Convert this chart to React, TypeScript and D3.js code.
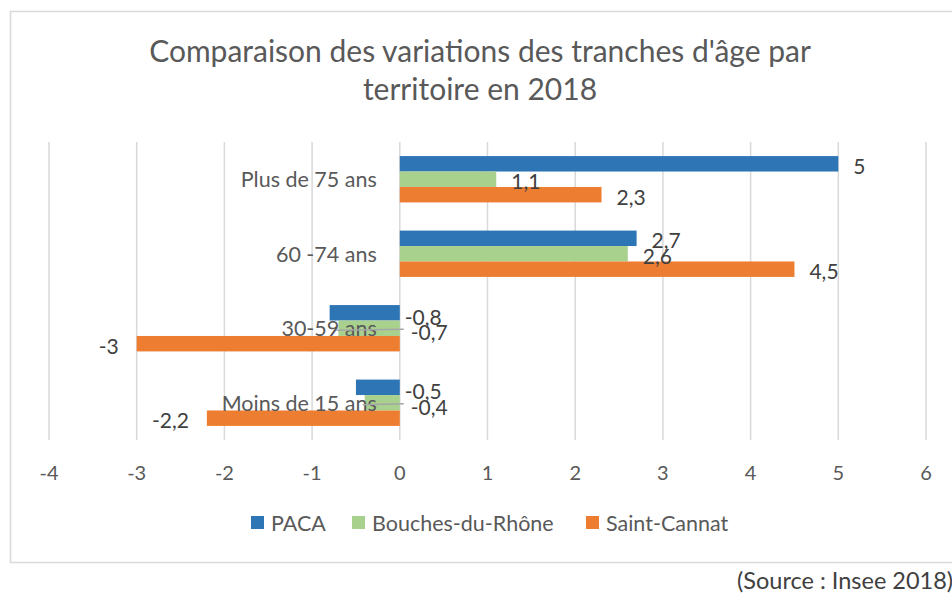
import React from "react";
import * as d3 from "d3";

const categories = ["Plus de 75 ans", "60 -74 ans", "30-59 ans", "Moins de 15 ans"];
const seriesNames = ["PACA", "Bouches-du-Rhône", "Saint-Cannat"];
const paca = [5, 2.7, -0.8, -0.5];
const bouches = [1.1, 2.6, -0.7, -0.4];
const saintCannat = [2.3, 4.5, -3, -2.2];
const xTicks = [-4, -3, -2, -1, 0, 1, 2, 3, 4, 5, 6];
const colors = ["#2E75B6", "#A9D18E", "#ED7D31"];
const titleLines = ["Comparaison des variations des tranches d'âge par", "territoire en 2018"];
const sourceText = "(Source : Insee 2018)";

const W = 952;
const H = 594;
const FONT = "Lato, 'Open Sans', sans-serif";

export default function App() {
  const series = [paca, bouches, saintCannat];
  const x = d3.scaleLinear().domain([-4, 6]).range([49, 926]);
  const y = d3.scaleBand<string>().domain(categories).range([142, 440]).padding(0);
  const gap = y.bandwidth() * 0.378;
  const inner = d3
    .scaleBand<number>()
    .domain([0, 1, 2])
    .range([gap / 2, y.bandwidth() - gap / 2])
    .padding(0);
  const fmt = (v: number) => String(v).replace(".", ",");

  const bars: any[] = [];
  const labels: any[] = [];
  const leaders: any[] = [];
  categories.forEach((c, ci) => {
    series.forEach((s, si) => {
      const v = s[ci];
      const y0 = (y(c) as number) + (inner(si) as number);
      const h = inner.bandwidth();
      const x0 = Math.min(x(0), x(v));
      const w = Math.abs(x(v) - x(0));
      bars.push(<rect key={`b${ci}-${si}`} x={x0} y={y0} width={w} height={h} fill={colors[si]} />);
      const cy = y0 + h / 2;
      if (v >= 0) {
        labels.push(
          <text key={`l${ci}-${si}`} x={x(v) + 15} y={cy + 1.5} dominantBaseline="central" fill="#404040" fontSize={21}>
            {fmt(v)}
          </text>
        );
      } else if (v <= -1) {
        labels.push(
          <text key={`l${ci}-${si}`} x={x(v) - 18} y={cy + 1.5} textAnchor="end" dominantBaseline="central" fill="#404040" fontSize={21}>
            {fmt(v)}
          </text>
        );
      } else {
        const lx = x(0) + (si === 0 ? 5 : 11);
        if (si === 1) {
          leaders.push(
            <line key={`ld${ci}`} x1={x(v) - 2} x2={x(0) + 4} y1={cy + 2} y2={cy + 1} stroke="#A6A6A6" strokeWidth={1.5} />
          );
        }
        labels.push(
          <text key={`l${ci}-${si}`} x={lx} y={cy + 3.5} dominantBaseline="central" fill="#404040" fontSize={21}>
            {fmt(v)}
          </text>
        );
      }
    });
  });

  const legendItems = [
    { sx: 251, tx: 271 },
    { sx: 352, tx: 372 },
    { sx: 586, tx: 606 },
  ];

  return (
    <div style={{ position: "fixed", left: 0, top: 0 }}>
      <svg width={W} height={H} style={{ display: "block", fontFamily: FONT }}>
        <rect x={0} y={0} width={W} height={H} fill="#fff" />
        <rect x={10.5} y={11.5} width={960} height={551} fill="#fff" stroke="#D9D9D9" strokeWidth={1.5} />
        {titleLines.map((t, i) => (
          <text key={t} x={480} y={62 + i * 38} textAnchor="middle" fill="#595959" fontSize={30}>
            {t}
          </text>
        ))}
        {xTicks.map((t) => (
          <line key={`g${t}`} x1={x(t)} x2={x(t)} y1={142} y2={440} stroke="#D9D9D9" strokeWidth={1.5} />
        ))}
        {bars}
        {categories.map((c) => (
          <text
            key={`c${c}`}
            x={x(0) - 23}
            y={(y(c) as number) + y.bandwidth() / 2}
            textAnchor="end"
            dominantBaseline="central"
            fill="#595959"
            fontSize={21.5}
          >
            {c}
          </text>
        ))}
        {leaders}
        {labels}
        {xTicks.map((t) => (
          <text key={`t${t}`} x={x(t)} y={472} textAnchor="middle" dominantBaseline="central" fill="#595959" fontSize={20}>
            {t}
          </text>
        ))}
        {seriesNames.map((n, i) => (
          <g key={n}>
            <rect x={legendItems[i].sx} y={516} width={13} height={13} fill={colors[i]} />
            <text x={legendItems[i].tx} y={523} dominantBaseline="central" fill="#595959" fontSize={21.5}>
              {n}
            </text>
          </g>
        ))}
        <text x={737} y={589} fill="#404040" fontSize={23.5}>
          {sourceText}
        </text>
      </svg>
    </div>
  );
}
